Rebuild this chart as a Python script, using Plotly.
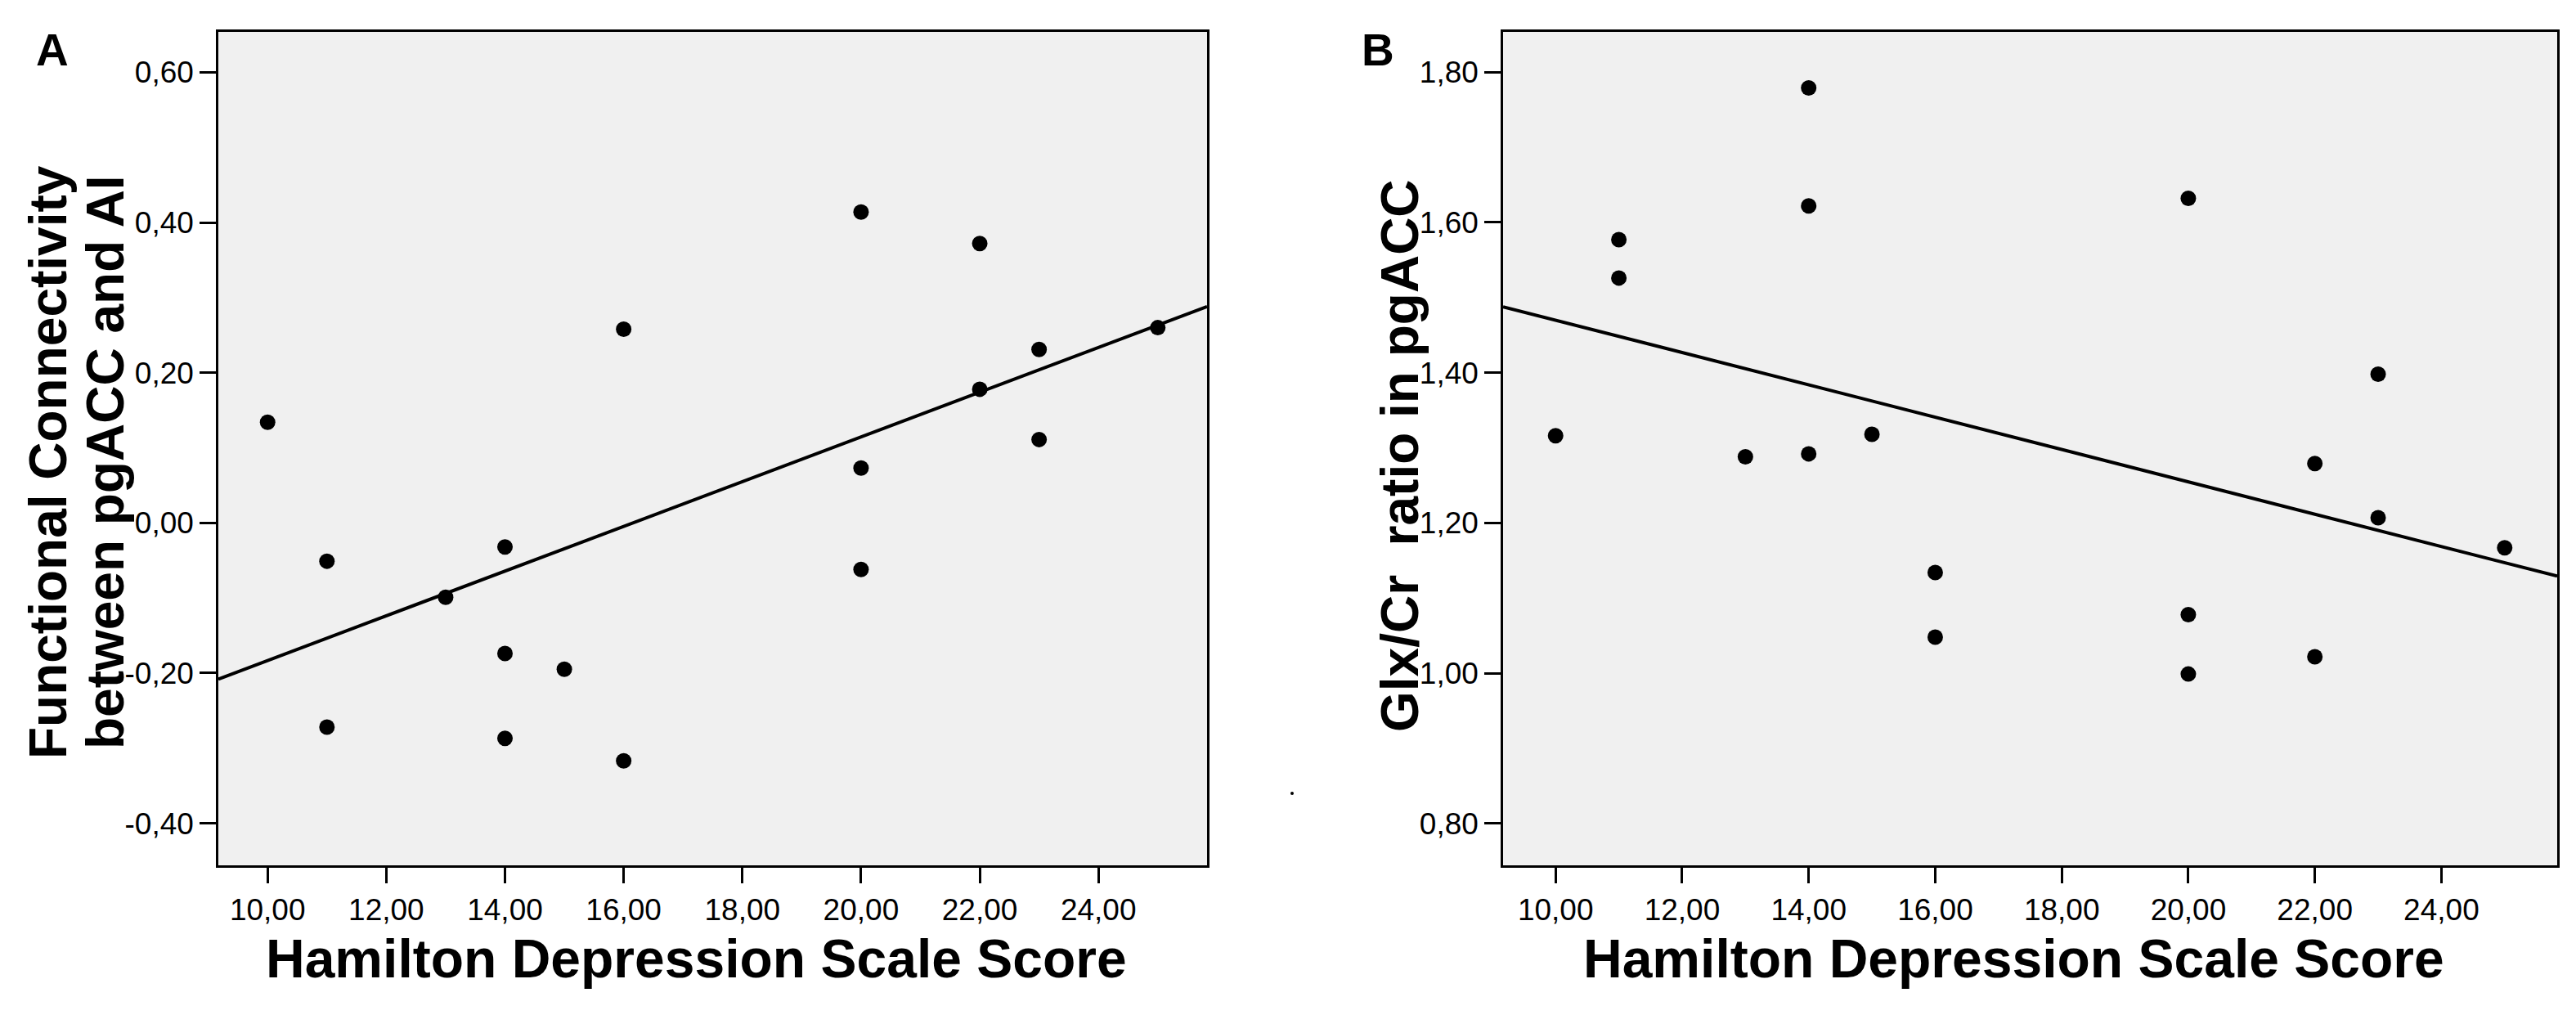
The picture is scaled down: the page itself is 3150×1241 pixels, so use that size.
import numpy as np
import plotly.graph_objects as go

# Hamilton depression scale score (shared by both panels)
ham_a = [10, 11, 11, 13, 14, 14, 14, 15, 16, 16, 20, 20, 20, 22, 22, 23, 23, 25]
fc_a = [0.134, -0.051, -0.272, -0.099, -0.032, -0.174, -0.287, -0.195, 0.258,
        -0.317, 0.414, 0.073, -0.062, 0.372, 0.178, 0.231, 0.111, 0.260]

ham_b = [10, 11, 11, 13, 14, 14, 14, 15, 16, 16, 20, 20, 20, 22, 22, 23, 23, 25]
glx_b = [1.316, 1.577, 1.526, 1.288, 1.779, 1.622, 1.292, 1.318, 1.134, 1.048,
         1.632, 1.078, 0.999, 1.279, 1.022, 1.398, 1.207, 1.167]

x_ticks = [10, 12, 14, 16, 18, 20, 22, 24]
x_ticktext = ["10,00", "12,00", "14,00", "16,00", "18,00", "20,00", "22,00", "24,00"]
ya_ticks = [-0.4, -0.2, 0.0, 0.2, 0.4, 0.6]
ya_ticktext = ["-0,40", "-0,20", "0,00", "0,20", "0,40", "0,60"]
yb_ticks = [0.8, 1.0, 1.2, 1.4, 1.6, 1.8]
yb_ticktext = ["0,80", "1,00", "1,20", "1,40", "1,60", "1,80"]

W, H = 3150, 1241
x_range = [9.17, 25.83]
ya_range = [-0.4555, 0.6544]
yb_range = [0.745, 1.854]

FONT = "Liberation Sans, Arial, sans-serif"


def fit_line(x, y):
    slope, icpt = np.polyfit(x, y, 1)
    xs = np.array(x_range)
    return xs, slope * xs + icpt


fig = go.Figure()

for x, y, xa, ya in [(ham_a, fc_a, "x", "y"), (ham_b, glx_b, "x2", "y2")]:
    lx, ly = fit_line(x, y)
    fig.add_trace(go.Scatter(x=lx, y=ly, mode="lines", xaxis=xa, yaxis=ya,
                             line=dict(color="black", width=4), showlegend=False))
    fig.add_trace(go.Scatter(x=x, y=y, mode="markers", xaxis=xa, yaxis=ya,
                             marker=dict(color="black", size=19), showlegend=False))

axis_common = dict(
    showline=True, linecolor="black", linewidth=2.5, mirror=True,
    ticks="outside", ticklen=20, tickwidth=2.5, tickcolor="black",
    showgrid=False, zeroline=False, automargin=False,
    tickfont=dict(family=FONT, size=37, color="black"),
)

y_dom = [1 - 1049.5 / H, 1 - 30.5 / H]

fig.update_layout(
    width=W, height=H,
    margin=dict(l=0, r=0, t=0, b=0),
    paper_bgcolor="white",
    plot_bgcolor="#f0f0f0",
    xaxis=dict(domain=[259 / W, 1468 / W], range=x_range, tickvals=x_ticks,
               ticktext=x_ticktext, anchor="y", **axis_common),
    yaxis=dict(domain=y_dom, range=ya_range, tickvals=ya_ticks,
               ticktext=ya_ticktext, anchor="x", **axis_common),
    xaxis2=dict(domain=[1830 / W, 3119 / W], range=x_range, tickvals=x_ticks,
                ticktext=x_ticktext, anchor="y2", **axis_common),
    yaxis2=dict(domain=y_dom, range=yb_range, tickvals=yb_ticks,
                ticktext=yb_ticktext, anchor="x2", **axis_common),
)

title_font = dict(family=FONT, size=66, color="black")
ytitle_font = dict(family=FONT, size=64, color="black")

annotations = [
    dict(text="<b>A</b>", x=34 / W, y=1 - 20 / H, xanchor="left", yanchor="top",
         font=dict(family=FONT, size=55, color="black")),
    dict(text="<b>B</b>", x=1655 / W, y=1 - 20 / H, xanchor="left", yanchor="top",
         font=dict(family=FONT, size=55, color="black")),
    dict(text="<b>Hamilton Depression Scale Score</b>", x=843 / W, y=1 - 1203 / H,
         xanchor="center", yanchor="bottom", font=title_font),
    dict(text="<b>Hamilton Depression Scale Score</b>", x=2454 / W, y=1 - 1203 / H,
         xanchor="center", yanchor="bottom", font=title_font),
    dict(text="<b>Functional Connectivity</b>", x=51 / W, y=1 - 557 / H,
         xanchor="center", yanchor="middle", textangle=-90, font=ytitle_font),
    dict(text="<b>between pgACC and AI</b>", x=121 / W, y=1 - 557 / H,
         xanchor="center", yanchor="middle", textangle=-90, font=ytitle_font),
    dict(text="<b>Glx/Cr  ratio in pgACC</b>", x=1704 / W, y=1 - 549 / H,
         xanchor="center", yanchor="middle", textangle=-90, font=ytitle_font),
]
for a in annotations:
    a.update(xref="paper", yref="paper", showarrow=False)
fig.update_layout(annotations=annotations)

# small stray dot between the panels
fig.add_shape(type="circle", xref="paper", yref="paper",
              x0=1570 / W, x1=1574 / W, y0=1 - 964 / H, y1=1 - 960 / H,
              fillcolor="black", line_width=0)

fig.write_html("out.html")
